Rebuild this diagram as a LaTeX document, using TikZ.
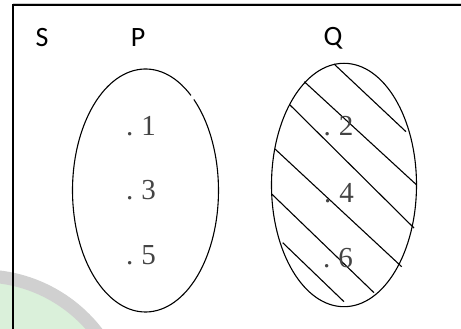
\documentclass[tikz,border=0pt]{standalone}
\usepackage{fontspec}
\setmainfont{Liberation Serif}
\newfontfamily\labelfont{Carlito}
\usepackage{tikz}
\usetikzlibrary{positioning}
\definecolor{numgray}{RGB}{68,68,68}
\definecolor{wmgreen}{RGB}{218,240,218}
\definecolor{wmgray}{RGB}{208,208,208}
\newcommand\setfont{\labelfont\fontsize{28pt}{32pt}\selectfont}
\newcommand\elemfont{\fontsize{29pt}{33pt}\selectfont}

\begin{document}
\begin{tikzpicture}[x=1pt,y=1pt,
    setname/.style={font=\setfont, inner sep=0pt},
    elem/.style={font=\elemfont, text=numgray, inner sep=0pt},
    outline/.style={line width=1.1pt},
    hatch/.style={line width=1.1pt}]
            % Same Bounding Box
            \useasboundingbox (0,0) rectangle (461,329);

            \def\setP{(145.5,138.5) ellipse [x radius=73, y radius=121.5]}
            \def\setQ{(344,144) ellipse [x radius=72.5, y radius=121.7]}

            % Faint watermark, bottom left
            \begin{scope}
                \clip (0,0) rectangle (461,329);
                \fill[wmgreen] (-18.3,-92.4) circle (140);
                \draw[wmgray, line width=13pt] (-18.3,-92.4) circle (145.5);
            \end{scope}

            % Universal set frame
            \draw[gray!40, line width=0.8pt] (13,325.6) -- (461,325.6);
            \draw[line width=1.3pt] (13,0) -- (13,324) -- (461,324);

            % Shading of Q: hatch lines
            \foreach \xa/\ya/\xb/\yb in {334/265/406/197.3, 304.3/247.3/416.7/144,
                    290/224/414/101, 275/180/401.7/62.3,
                    271.7/135/374/36.3, 282.7/86.3/344/27.3}
                \draw[hatch] (\xa,\ya) -- (\xb,\yb);

            % Outlines and Labels
            \draw[outline] ([shift={(51.5:73 and 121.5)}]145.5,138.5)
                arc [start angle=51.5, end angle=408.5, x radius=73, y radius=121.5];
            \draw[outline] \setQ;
            \node[setname] (S) at (42,291) {S};
            \node[setname] (P) at (138,291) {P};
            \node[setname] (Q) at (333,291) {Q};

            \node[elem] (e1) at (141,203) {.\;1};
            \node[elem] (e3) at (141,139) {.\;3};
            \node[elem] (e5) at (141,74) {.\;5};
            \node[elem] (e2) at (338.5,203) {.\;2};
            \node[elem] (e4) at (339,136) {.\;4};
            \node[elem] (e6) at (338,71) {.\;6};
        \end{tikzpicture}
\end{document}
